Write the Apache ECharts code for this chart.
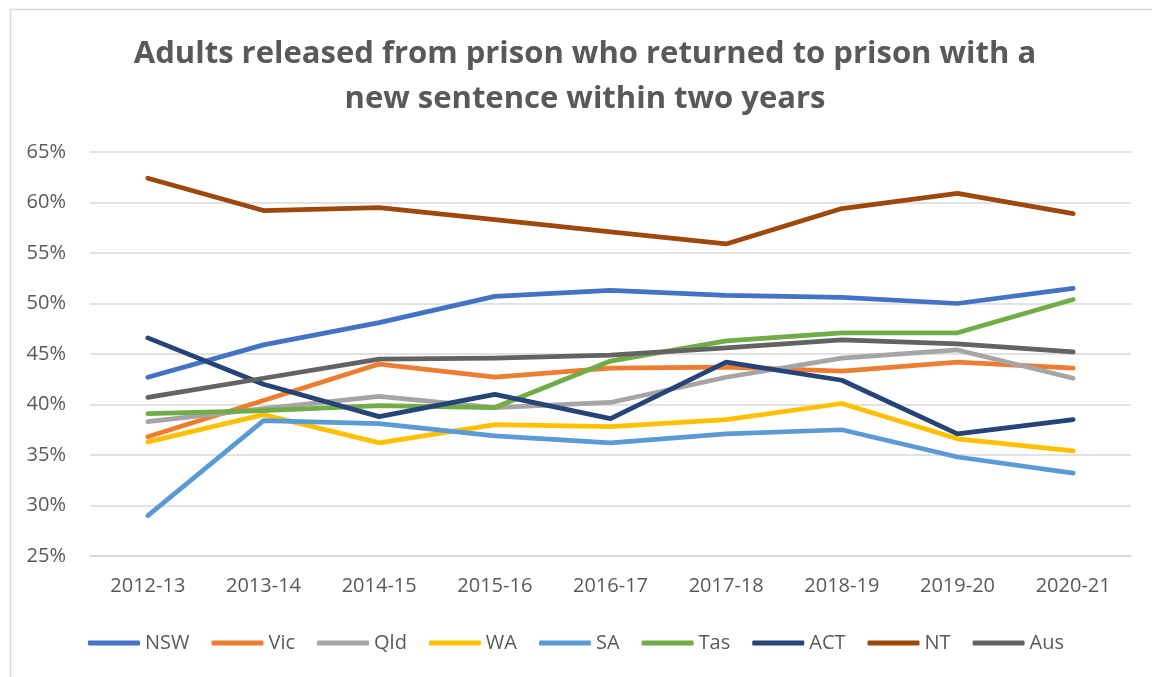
<!DOCTYPE html>
<html>
<head>
<meta charset="utf-8">
<script src="https://cdn.jsdelivr.net/npm/echarts@6/dist/echarts.min.js"></script>
<style>
html,body{margin:0;padding:0;background:#fff;}
#chart{width:1152px;height:677px;}
</style>
</head>
<body>
<div id="chart"></div>
<script>
var categories = ['2012-13','2013-14','2014-15','2015-16','2016-17','2017-18','2018-19','2019-20','2020-21'];
var nsw = [42.7, 45.9, 48.1, 50.7, 51.3, 50.8, 50.6, 50.0, 51.5];
var vic = [36.8, 40.4, 44.0, 42.7, 43.6, 43.7, 43.3, 44.2, 43.6];
var qld = [38.3, 39.6, 40.8, 39.7, 40.2, 42.7, 44.6, 45.4, 42.6];
var wa  = [36.3, 39.0, 36.2, 38.0, 37.8, 38.5, 40.1, 36.6, 35.4];
var sa  = [29.0, 38.4, 38.1, 36.9, 36.2, 37.1, 37.5, 34.8, 33.2];
var tas = [39.1, 39.4, 39.9, 39.7, 44.3, 46.3, 47.1, 47.1, 50.4];
var act = [46.6, 42.0, 38.8, 41.0, 38.6, 44.2, 42.4, 37.1, 38.5];
var nt  = [62.4, 59.2, 59.5, 58.3, 57.1, 55.9, 59.4, 60.9, 58.9];
var aus = [40.7, 42.6, 44.5, 44.6, 44.9, 45.6, 46.4, 46.0, 45.2];
var seriesNames = ['NSW','Vic','Qld','WA','SA','Tas','ACT','NT','Aus'];
var seriesData = [nsw, vic, qld, wa, sa, tas, act, nt, aus];
var colors = ['#4472C4','#ED7D31','#A5A5A5','#FFC000','#5B9BD5','#70AD47','#264478','#9E480E','#636363'];
var titleText = 'Adults released from prison who returned to prison with a\nnew sentence within two years';

var FONT = '"Open Sans", sans-serif';
var chart = echarts.init(document.getElementById('chart'), null, {renderer:'canvas'});
var series = seriesNames.map(function(n, i){
  return {
    name: n, type: 'line', data: seriesData[i],
    symbol: 'none', smooth: false,
    lineStyle: {width: 4.75, color: colors[i], cap: 'round', join: 'round'},
    itemStyle: {color: colors[i]},
    emphasis: {disabled: true},
    animation: false
  };
});
chart.setOption({
  animation: false,
  color: colors,
  graphic: [{
    type: 'rect', left: 8, top: 7, silent: true,
    shape: {width: 1200, height: 700},
    style: {fill: 'none', stroke: '#d9d9d9', lineWidth: 1.5}
  }],
  title: {
    text: titleText,
    left: 580, top: 27, textAlign: 'center',
    textStyle: {fontFamily: FONT, fontWeight: 'bold', fontSize: 31, color: '#595959', lineHeight: 45}
  },
  grid: {left: 90, right: 21, top: 152, bottom: 121, containLabel: false},
  legend: {
    data: seriesNames, left: 'center', top: 628,
    icon: 'roundRect', itemWidth: 52, itemHeight: 5, itemGap: 22,
    textStyle: {fontFamily: FONT, fontSize: 20, color: '#595959'}
  },
  xAxis: {
    type: 'category', data: categories, boundaryGap: true,
    axisLine: {show: true, lineStyle: {color: '#d9d9d9', width: 1.5}},
    axisTick: {show: false},
    axisLabel: {fontFamily: FONT, fontSize: 20, color: '#595959', margin: 20}
  },
  yAxis: {
    type: 'value', min: 25, max: 65, interval: 5,
    axisLine: {show: false}, axisTick: {show: false},
    splitLine: {lineStyle: {color: '#d9d9d9', width: 1.5}},
    axisLabel: {fontFamily: FONT, fontSize: 20, color: '#595959', margin: 24, formatter: '{value}%'}
  },
  series: series
});
</script>
</body>
</html>
